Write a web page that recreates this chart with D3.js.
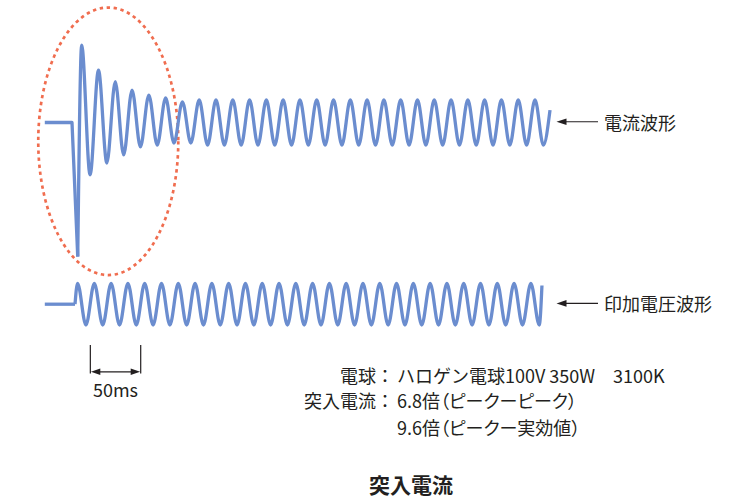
<!DOCTYPE html>
<html><head><meta charset="utf-8">
<script src="https://cdn.jsdelivr.net/npm/d3@7"></script>
<style>body{margin:0;background:#fff}svg{display:block}</style>
</head><body>
<svg id="chart" width="735" height="502"></svg>
<script>
// ---- data (time in ms from switch-on, amplitudes relative to steady-state peak) ----
const lineFreqHz = 60;
const halfPeriodMs = 1000 / lineFreqHz / 2;
const traceStartMs = -27;

// current waveform
const currentSwitchMs = 0;
const currentSpike = { t: 5.7, v: -5.96 };
const currentFirstExtremumMs = 9.6;
const currentExtrema = [
  3.44, -2.33, 2.33, -1.80, 1.81, -1.44, 1.44, -1.08, 1.22, -1.00,
  1.09, -0.91, 0.92, -0.91, 1, -1, 1, -1, 1, -1,
  1, -1, 1, -1, 1, -1, 1, -1, 1, -1,
  1, -1, 1, -1, 1, -1, 1, -1, 1, -1,
  1, -1, 1, -1, 1, -1, 1, -1, 1, -1,
  1, -1, 1, -1, 1, -1
];
const currentEnd = { t: 474.5, v: 0.55 };

// applied voltage waveform
const voltageSwitchMs = 3;
const voltageFirstExtremumMs = 5.5;
const voltageExtrema = [
  1, -1, 1, -1, 1, -1, 1, -1, 1, -1,
  1, -1, 1, -1, 1, -1, 1, -1, 1, -1,
  1, -1, 1, -1, 1, -1, 1, -1, 1, -1,
  1, -1, 1, -1, 1, -1, 1, -1, 1, -1,
  1, -1, 1, -1, 1, -1, 1, -1, 1, -1,
  1, -1, 1, -1, 1, -1
];
const voltageEnd = { t: 466.5, v: 0.9 };

// annotations
const scaleBarMs = [18.2, 68.2];
const scaleBarLabel = "50ms";
const highlightBox = { t0: -33.5, t1: 105.5, v0: -6.78, v1: 5.11 };
const seriesLabels = ["電流波形", "印加電圧波形"];
const infoLabels = ["電球：", "突入電流：", ""];
const infoValues = ["ハロゲン電球100V 350W\u30003100K", "6.8倍（ピークーピーク）", "9.6倍（ピークー実効値）"];
const infoPalt = [false, true, true];
const title = "突入電流";

// ---- drawing ----
const svg = d3.select("#chart");
const waveColor = "#6b8dcf";
const inkColor = "#231f20";
const font = "'Noto Sans CJK JP', 'Noto Sans', sans-serif";

const x = d3.scaleLinear().domain([0, 100]).range([72, 172.74]);
const yC = d3.scaleLinear().domain([-1, 1]).range([145, 100]);
const yV = d3.scaleLinear().domain([-1, 1]).range([325, 283.4]);

function extremaPoints(t0, vals) {
  return vals.map((v, i) => ({ t: t0 + i * halfPeriodMs, v }));
}

// highlight ellipse (behind)
const ex0 = x(highlightBox.t0), ex1 = x(highlightBox.t1);
const ey0 = yC(highlightBox.v1), ey1 = yC(highlightBox.v0);
svg.append("ellipse")
  .attr("cx", (ex0 + ex1) / 2).attr("cy", (ey0 + ey1) / 2)
  .attr("rx", (ex1 - ex0) / 2).attr("ry", (ey1 - ey0) / 2)
  .attr("fill", "none").attr("stroke", "#f06d4f")
  .attr("stroke-width", 2.7).attr("stroke-dasharray", "3.4,3.6");

function drawWave(pts, curve, yScale) {
  const line = d3.line().x(d => x(d.t)).y(d => yScale(d.v)).curve(curve);
  svg.append("path").attr("d", line(pts))
    .attr("fill", "none").attr("stroke", waveColor).attr("stroke-width", 3.3)
    .attr("stroke-linejoin", "round").attr("stroke-linecap", "butt");
}

// current
drawWave([{ t: traceStartMs, v: 0 }, { t: currentSwitchMs, v: 0 }, currentSpike], d3.curveLinear, yC);
drawWave([currentSpike].concat(extremaPoints(currentFirstExtremumMs, currentExtrema), [currentEnd]), d3.curveMonotoneX, yC);

// voltage
drawWave([{ t: traceStartMs, v: 0 }, { t: voltageSwitchMs, v: 0 }], d3.curveLinear, yV);
drawWave([{ t: voltageSwitchMs, v: 0 }].concat(extremaPoints(voltageFirstExtremumMs, voltageExtrema), [voltageEnd]), d3.curveMonotoneX, yV);

// right-side labels with arrows
const labelYs = [yC(0) - 0.8, yV(0) - 0.8];
seriesLabels.forEach((lab, i) => {
  const yy = labelYs[i];
  const ax0 = 556.5, ax1 = 598;
  svg.append("line").attr("x1", ax0 + 6).attr("x2", ax1).attr("y1", yy).attr("y2", yy)
    .attr("stroke", inkColor).attr("stroke-width", 1.1);
  svg.append("path").attr("d", `M${ax0},${yy}L${ax0 + 10},${yy - 3.3}L${ax0 + 10},${yy + 3.3}Z`).attr("fill", inkColor);
  svg.append("text").attr("x", 604).attr("y", yy).attr("dominant-baseline", "central")
    .attr("font-family", font).attr("font-size", 18).attr("fill", inkColor).text(lab);
});

// 50ms scale bar
const bx0 = x(scaleBarMs[0]), bx1 = x(scaleBarMs[1]);
[bx0, bx1].forEach(bx => svg.append("line").attr("x1", bx).attr("x2", bx).attr("y1", 345).attr("y2", 373.5)
  .attr("stroke", inkColor).attr("stroke-width", 1.2));
const by = 371.8;
svg.append("line").attr("x1", bx0 + 6).attr("x2", bx1 - 6).attr("y1", by).attr("y2", by)
  .attr("stroke", inkColor).attr("stroke-width", 1.2);
svg.append("path").attr("d", `M${bx0 + 0.6},${by}L${bx0 + 10},${by - 3.2}L${bx0 + 10},${by + 3.2}Z`).attr("fill", inkColor);
svg.append("path").attr("d", `M${bx1 - 0.6},${by}L${bx1 - 10},${by - 3.2}L${bx1 - 10},${by + 3.2}Z`).attr("fill", inkColor);
svg.append("text").attr("x", (bx0 + bx1) / 2).attr("y", 396.6).attr("text-anchor", "middle")
  .attr("font-family", font).attr("font-size", 18).attr("fill", inkColor).text(scaleBarLabel);

// info block
const infoYs = [374.5, 400, 426.5];
infoLabels.forEach((lab, i) => {
  if (lab) svg.append("text").attr("x", 394).attr("y", infoYs[i]).attr("text-anchor", "end")
    .attr("dominant-baseline", "central").attr("font-family", font).attr("font-size", 18)
    .attr("fill", inkColor).text(lab);
  const t = svg.append("text").attr("x", 397).attr("y", infoYs[i])
    .attr("dominant-baseline", "central").attr("font-family", font).attr("font-size", 18)
    .attr("fill", inkColor).text(infoValues[i]);
  if (infoPalt[i]) t.style("font-feature-settings", "'palt'");
});

// title
svg.append("text").attr("x", 411).attr("y", 484).attr("text-anchor", "middle")
  .attr("dominant-baseline", "central").attr("font-family", font).attr("font-size", 21)
  .attr("font-weight", "bold").attr("fill", inkColor).text(title);
</script>
</body></html>
